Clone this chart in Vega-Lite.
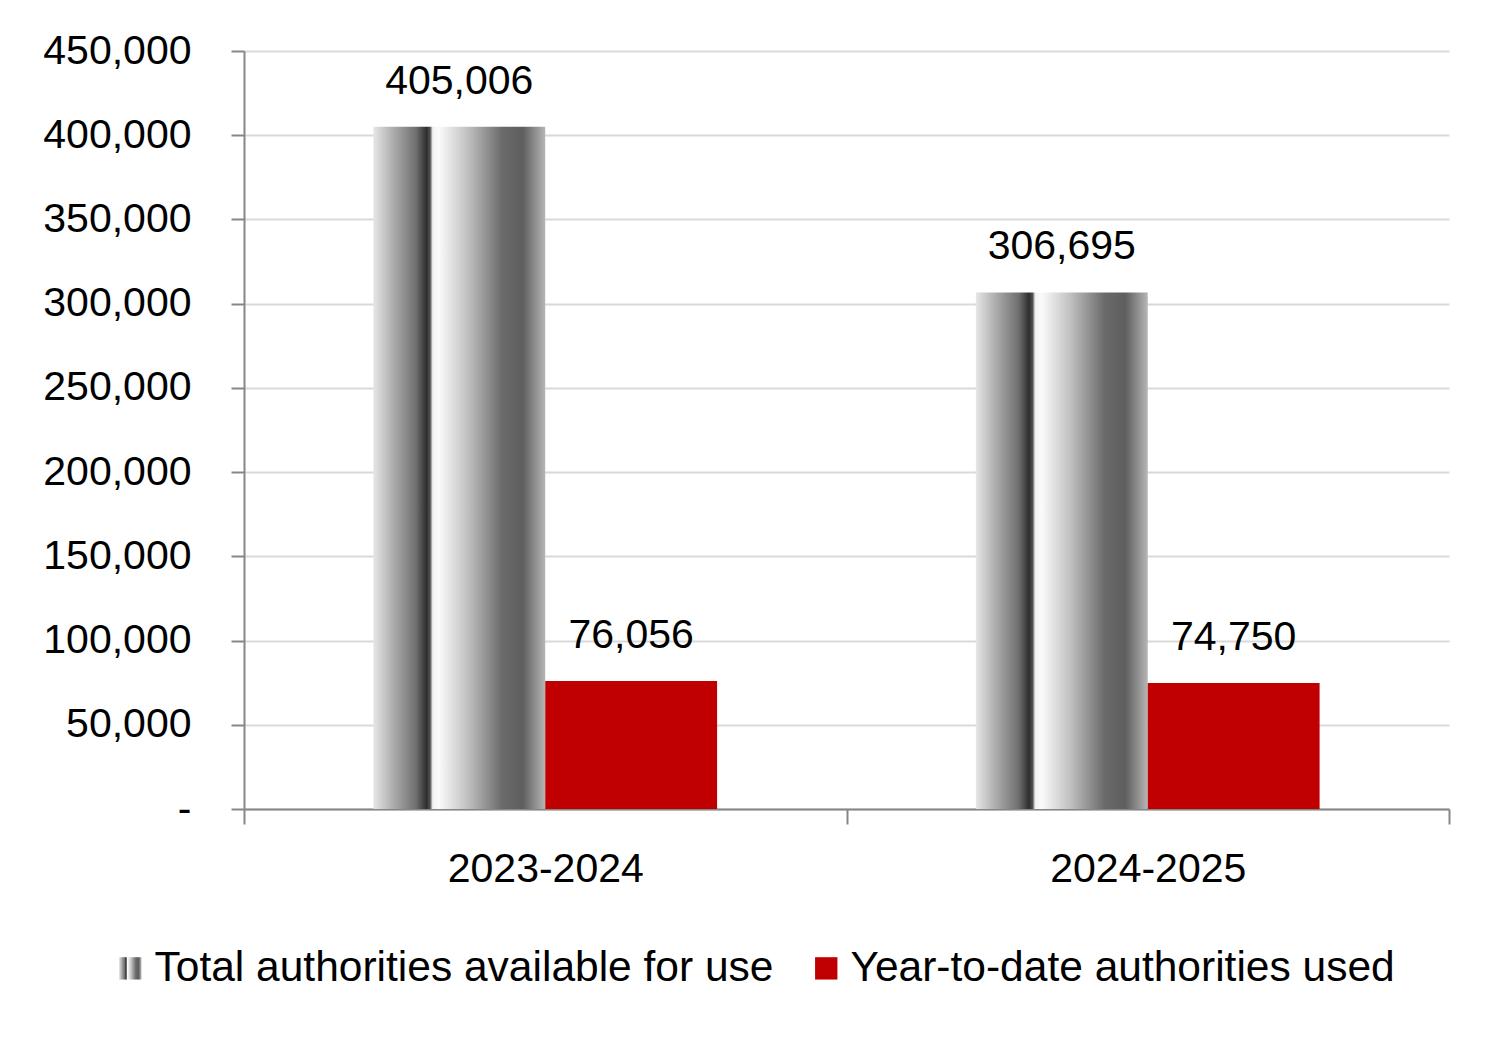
{
  "$schema": "https://vega.github.io/schema/vega-lite/v6.json",
  "width": 1205,
  "height": 758,
  "autosize": {"type": "none"},
  "padding": {"left": 244, "top": 51, "right": 52, "bottom": 228},
  "background": "white",
  "config": {
    "view": {"stroke": null},
    "font": "Liberation Sans",
    "text": {"font": "Liberation Sans"},
    "legend": {"padding": 0}
  },
  "data": {
    "values": [
      {"year": "2023-2024", "series": "Total authorities available for use", "value": 405006},
      {"year": "2023-2024", "series": "Year-to-date authorities used", "value": 76056},
      {"year": "2024-2025", "series": "Total authorities available for use", "value": 306695},
      {"year": "2024-2025", "series": "Year-to-date authorities used", "value": 74750}
    ]
  },
  "encoding": {
    "x": {
      "field": "year", "type": "nominal", "title": null,
      "scale": {"paddingInner": 0, "paddingOuter": 0},
      "axis": {
        "labelAngle": 0, "labelFontSize": 41, "labelColor": "#000000", "labelPadding": 25, "labelLimit": 1000,
        "domainColor": "#868686", "domainWidth": 2,
        "tickColor": "#868686", "tickWidth": 2, "tickSize": 15, "tickBand": "extent"
      }
    },
    "xOffset": {
      "field": "series", "type": "nominal",
      "scale": {"domain": ["Total authorities available for use", "Year-to-date authorities used"], "paddingInner": 0, "paddingOuter": 0.753}
    },
    "y": {
      "field": "value", "type": "quantitative", "title": null,
      "scale": {"domain": [0, 450000], "nice": false},
      "axis": {
        "values": [0, 50000, 100000, 150000, 200000, 250000, 300000, 350000, 400000, 450000],
        "labelExpr": "datum.value == 0 ? '-\u00a0\u00a0' : format(datum.value, ',')",
        "labelFontSize": 41, "labelColor": "#000000", "labelPadding": 40,
        "gridColor": "#d9d9d9", "gridWidth": 2,
        "domainColor": "#868686", "domainWidth": 2,
        "tickColor": "#868686", "tickWidth": 2, "tickSize": 13
      }
    }
  },
  "layer": [
    {
      "mark": {"type": "bar"},
      "encoding": {
        "color": {
          "field": "series", "type": "nominal",
          "scale": {
            "domain": ["Total authorities available for use", "Year-to-date authorities used"],
            "range": [
              {"expr": "{gradient: 'linear', x1: 0, y1: 0, x2: 1, y2: 0, stops: [{offset: 0, color: '#e6e6e6'}, {offset: 0.1, color: '#b4b4b4'}, {offset: 0.25, color: '#6e6e6e'}, {offset: 0.31, color: '#2e2e2e'}, {offset: 0.33, color: '#505050'}, {offset: 0.345, color: '#f2f2f2'}, {offset: 0.38, color: '#fbfbfb'}, {offset: 0.55, color: '#c0c0c0'}, {offset: 0.75, color: '#6a6a6a'}, {offset: 0.87, color: '#5e5e5e'}, {offset: 1, color: '#b6b6b6'}]}"},
              "#C00000"
            ]
          },
          "legend": {
            "title": null, "orient": "none", "direction": "horizontal",
            "legendX": -135, "legendY": 896,
            "symbolType": "square", "symbolSize": 500, "symbolStrokeWidth": 0,
            "labelFontSize": 42.5, "labelColor": "#000000", "labelOffset": 3,
            "columnPadding": 31, "labelLimit": 1000
          }
        }
      }
    },
    {
      "mark": {"type": "text", "fontSize": 41, "color": "#000000", "baseline": "alphabetic", "dy": -33},
      "encoding": {
        "text": {"field": "value", "type": "quantitative", "format": ","}
      }
    }
  ]
}
